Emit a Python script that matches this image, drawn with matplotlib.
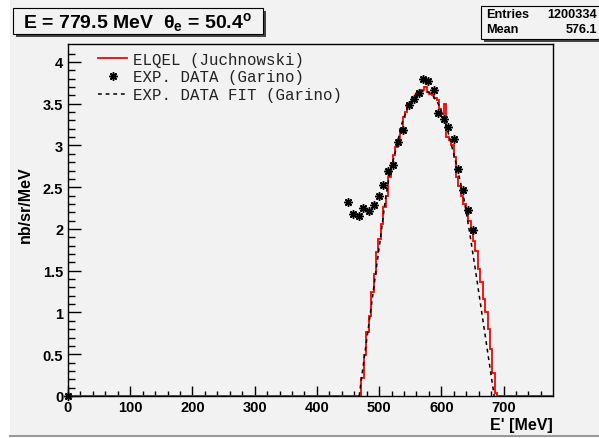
import numpy as np
import matplotlib
matplotlib.use('Agg')
import matplotlib.pyplot as plt
from matplotlib.patches import Rectangle
from matplotlib.lines import Line2D

# ELQEL histogram (200 bins over 0 - 779.5 MeV), non-empty bins start at bin 120
nBins = 200
eMax = 779.5
firstBin = 120
histVals = [0.00, 0.22, 0.49, 0.77, 0.96, 1.24, 1.46, 1.72, 1.88, 2.06,
            2.26, 2.40, 2.62, 2.76, 2.88, 2.98, 3.06, 3.20, 3.34, 3.40,
            3.48, 3.52, 3.56, 3.61, 3.64, 3.67, 3.66, 3.70, 3.64, 3.62,
            3.60, 3.57, 3.54, 3.44, 3.38, 3.50, 3.10, 3.06, 3.00, 2.86,
            2.62, 2.52, 2.40, 2.30, 2.20, 2.10, 1.98, 1.86, 1.74, 1.52,
            1.36, 1.16, 1.00, 0.80, 0.56, 0.28, 0.04]

# experimental data (Garino)
expE = [0, 449.5, 457.6, 467.3, 474.7, 483.4, 491.9, 499.5, 506.9, 515.0,
        523.1, 531.1, 539.2, 547.3, 555.3, 563.4, 570.5, 579.0, 587.6, 595.2,
        603.7, 610.2, 619.8, 626.3, 634.4, 642.4, 650.5]
expY = [0, 2.32, 2.18, 2.15, 2.25, 2.22, 2.29, 2.39, 2.53, 2.70,
        2.77, 3.04, 3.18, 3.49, 3.56, 3.63, 3.80, 3.77, 3.67, 3.39,
        3.32, 3.22, 3.08, 2.72, 2.47, 2.23, 1.99]

# fit to the experimental data (Garino)
fitE = [468, 476, 487, 495, 502, 510, 517, 527, 536, 546, 556, 563,
        573, 584, 595, 605, 613, 624, 635, 645, 655, 665, 675, 685]
fitY = [0.0, 0.45, 1.05, 1.50, 1.88, 2.35, 2.66, 2.95, 3.25, 3.46, 3.58, 3.63,
        3.66, 3.62, 3.50, 3.32, 3.10, 2.78, 2.42, 1.98, 1.50, 1.00, 0.50, 0.0]

titleText = r'E = 779.5 MeV  $\theta_{\mathbf{e}}$ = 50.4$^{\mathbf{o}}$'
statsRows = [('Entries', '1200334'), ('Mean', '576.1')]
legendLabels = ['ELQEL (Juchnowski)', 'EXP. DATA (Garino)', 'EXP. DATA FIT (Garino)']

W, H = 599, 439
BG = '#f2f2f2'
plt.rcParams['mathtext.fontset'] = 'custom'
plt.rcParams['mathtext.rm'] = 'Liberation Sans:bold'
plt.rcParams['mathtext.it'] = 'Liberation Sans:bold'
plt.rcParams['mathtext.bf'] = 'Liberation Sans:bold'


def fx(px):
    return px / W


def fy(py):
    return 1 - py / H


def pave(fig, x0, y0, x1, y1, shadow=3):
    # ROOT-like pave with shadow at right/bottom
    fig.add_artist(Rectangle((fx(x0 + shadow), fy(y1 + shadow)), (x1 - x0) / W, (y1 - y0) / H,
                             transform=fig.transFigure, facecolor='#444444', edgecolor='none',
                             zorder=5))
    fig.add_artist(Rectangle((fx(x0), fy(y1)), (x1 - x0) / W, (y1 - y0) / H,
                             transform=fig.transFigure, facecolor=BG, edgecolor='black', lw=0.8,
                             zorder=6))


fig = plt.figure(figsize=(W / 100, H / 100), dpi=100)
fig.patch.set_facecolor('white')
fig.add_artist(Rectangle((fx(10), fy(437)), (W - 10) / W, 437 / H,
                         transform=fig.transFigure, facecolor=BG, edgecolor='none', zorder=-10))
fig.add_artist(Line2D([fx(10), fx(W)], [fy(437), fy(437)], transform=fig.transFigure,
                      color='#9a9a9a', lw=1.5, zorder=-9))

ax = fig.add_axes([fx(68), fy(397), 485 / W, 352 / H])
ax.set_facecolor(BG)

edges = np.linspace(0, eMax, nBins + 1)
vals = np.zeros(nBins)
vals[firstBin:firstBin + len(histVals)] = histVals
ax.stairs(vals, edges, color='red', lw=1.3, label=legendLabels[0], zorder=2)
ax.plot(expE, expY, ls='none', marker=(8, 2, 0), ms=6, mew=1.1, color='black',
        label=legendLabels[1], zorder=4, clip_on=False)
ax.plot(fitE, fitY, ls=(0, (2.5, 2.5)), lw=1.1, color='black', label=legendLabels[2], zorder=3)

ax.set_xlim(0, eMax)
ax.set_ylim(0, 4.215)
ax.set_xticks(np.arange(0, 701, 100))
ax.set_xticks(np.arange(0, eMax, 20), minor=True)
ax.set_yticks(np.arange(0, 4.01, 0.5))
ax.set_yticks(np.arange(0, 4.2, 0.1), minor=True)
ax.set_yticklabels(['0', '0.5', '1', '1.5', '2', '2.5', '3', '3.5', '4'])
ax.tick_params(axis='x', which='major', direction='in', length=7.5, width=1, pad=3,
               labelsize=10.5, top=False)
ax.tick_params(axis='x', which='minor', direction='in', length=3.8, width=1, top=False)
ax.tick_params(axis='y', which='major', direction='in', length=9.5, width=1, pad=3.5,
               labelsize=10.5, right=False)
ax.tick_params(axis='y', which='minor', direction='in', length=4.8, width=1, right=False)
for lab in ax.get_xticklabels() + ax.get_yticklabels():
    lab.set_fontweight('bold')
    lab.set_family('Liberation Sans')
for sp in ax.spines.values():
    sp.set_linewidth(1)

ax.set_xlabel("E' [MeV]", fontsize=11.5, fontweight='bold', family='Liberation Sans',
              loc='right', labelpad=2)
ax.set_ylabel('nb/sr/MeV', fontsize=11.5, fontweight='bold', family='Liberation Sans')
ax.yaxis.set_label_coords((33 - 68) / 485, 0.545)

leg = ax.legend(loc='upper left', bbox_to_anchor=(0.062, 0.978), frameon=False,
                prop={'family': 'Liberation Mono', 'size': 11.3}, handlelength=1.85,
                handletextpad=0.4, labelspacing=0.17, borderpad=0, borderaxespad=0)
for t in leg.get_texts():
    t.set_color('#222222')

# title pave
pave(fig, 13, 9, 263, 35)
fig.text(fx(23), fy(22), titleText, fontsize=14, fontweight='bold',
         family='Liberation Sans', va='center', ha='left', zorder=7)

# stats pave
pave(fig, 481, 7, 603, 40)
for i, (name, value) in enumerate(statsRows):
    yy = 14.5 + i * 15.5
    fig.text(fx(486), fy(yy), name, fontsize=9.1, fontweight='bold',
             family='Liberation Sans', va='center', ha='left', zorder=7)
    fig.text(fx(597), fy(yy), value, fontsize=9.1, fontweight='bold',
             family='Liberation Sans', va='center', ha='right', zorder=7)

fig.savefig('out.png', dpi=100, facecolor=fig.get_facecolor())
